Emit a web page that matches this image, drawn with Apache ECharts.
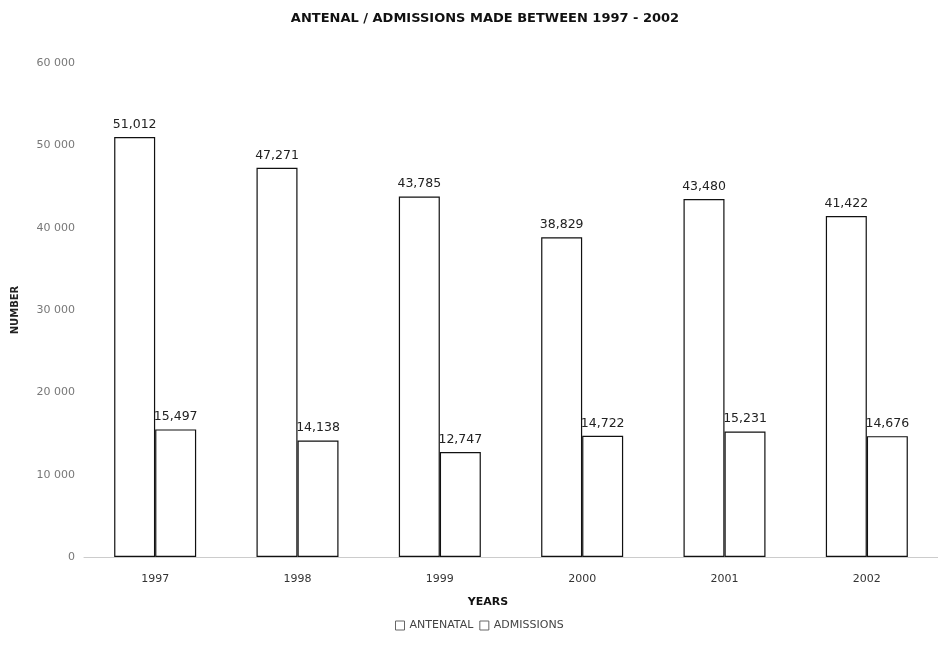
<!DOCTYPE html>
<html>
<head>
<meta charset="utf-8">
<script src="https://cdn.jsdelivr.net/npm/echarts@6/dist/echarts.min.js"></script>
<style>
  html, body { margin: 0; padding: 0; background: #fff; }
  #chart { width: 938px; height: 648px; }
</style>
</head>
<body>
<div id="chart"></div>
<script>
// Yearly totals, 1997 - 2002
const years = ['1997', '1998', '1999', '2000', '2001', '2002'];
const antenatal = [51012, 47271, 43785, 38829, 43480, 41422];
const admissions = [15497, 14138, 12747, 14722, 15231, 14676];
const yTicks = [0, 10000, 20000, 30000, 40000, 50000, 60000];

const chart = echarts.init(document.getElementById('chart'), null, { renderer: 'canvas' });

const FONT = 'DejaVu Sans, Liberation Sans, Arial, sans-serif';
const fmtValue = v => v.toLocaleString('en-US');
const fmtTick = v => v === 0 ? '0' : String(v).replace(/(\d+)(\d{3})$/, '$1 $2');

const barStyle = {
  color: '#ffffff',
  borderColor: '#111111',
  borderWidth: 1.2
};
const labelStyle = {
  show: true,
  position: 'top',
  distance: 6,
  color: '#222',
  fontFamily: FONT,
  fontSize: 12.5,
  formatter: p => fmtValue(p.value)
};

chart.setOption({
  backgroundColor: '#ffffff',
  animation: false,
  title: {
    text: 'ANTENAL / ADMISSIONS MADE BETWEEN 1997 - 2002',
    left: 480,
    textAlign: 'center',
    top: 7,
    textStyle: {
      fontFamily: FONT,
      fontSize: 13,
      fontWeight: 'bold',
      color: '#111'
    }
  },
  legend: {
    data: ['ANTENATAL', 'ADMISSIONS'],
    bottom: 12,
    left: 390,
    itemWidth: 9,
    itemHeight: 9,
    itemGap: 6,
    icon: 'rect',
    itemStyle: { color: '#ffffff', borderColor: '#666666', borderWidth: 1 },
    textStyle: {
      fontFamily: FONT,
      fontSize: 11,
      color: '#444'
    }
  },
  grid: { left: 84, right: 0, top: 63, bottom: 91 },
  xAxis: {
    type: 'category',
    data: years,
    name: 'YEARS',
    nameLocation: 'middle',
    nameGap: 40,
    nameTextStyle: {
      fontFamily: FONT,
      fontSize: 11,
      fontWeight: 'bold',
      color: '#111',
      padding: [0, 0, 0, -46]
    },
    axisLine: { show: true, lineStyle: { color: '#cccccc', width: 1 } },
    axisTick: { show: false },
    axisLabel: {
      margin: 17,
      color: '#333',
      fontFamily: FONT,
      fontSize: 11
    }
  },
  yAxis: {
    type: 'value',
    min: yTicks[0],
    max: yTicks[yTicks.length - 1],
    interval: 10000,
    name: 'NUMBER',
    nameLocation: 'middle',
    nameGap: 64,
    nameRotate: 90,
    nameTextStyle: {
      fontFamily: FONT,
      fontSize: 10,
      fontWeight: 'bold',
      color: '#222'
    },
    axisLine: { show: false },
    axisTick: { show: false },
    splitLine: { show: false },
    axisLabel: {
      margin: 9,
      color: '#777',
      fontFamily: FONT,
      fontSize: 11,
      formatter: fmtTick
    }
  },
  series: [
    {
      name: 'ANTENATAL',
      type: 'bar',
      data: antenatal,
      barWidth: 41,
      barGap: '0%',
      itemStyle: barStyle,
      label: labelStyle
    },
    {
      name: 'ADMISSIONS',
      type: 'bar',
      data: admissions,
      barWidth: 41,
      barGap: '0%',
      itemStyle: barStyle,
      label: labelStyle
    }
  ]
});
</script>
</body>
</html>
